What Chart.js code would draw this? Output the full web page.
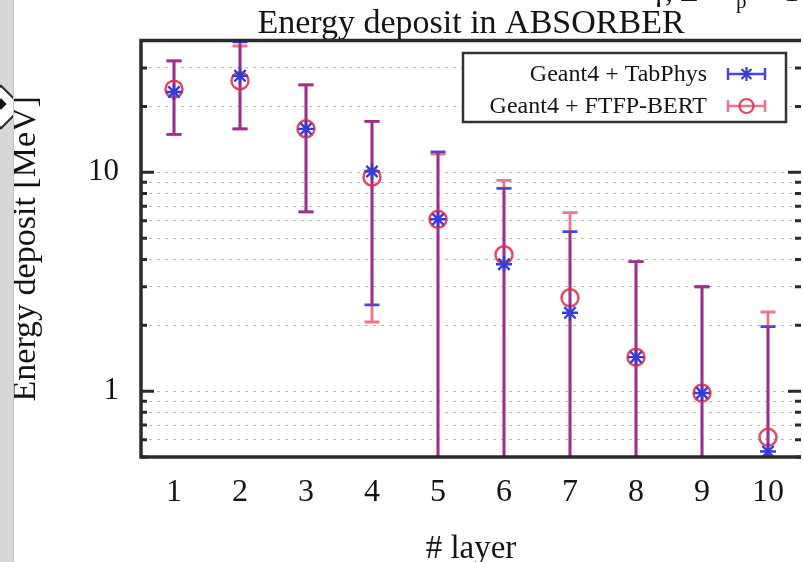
<!DOCTYPE html>
<html>
<head>
<meta charset="utf-8">
<title>Energy deposit in ABSORBER</title>
<script src="https://cdn.jsdelivr.net/npm/chart.js@4.4.1/dist/chart.umd.min.js"></script>
<style>
  html, body { margin: 0; padding: 0; background: #fff; overflow: hidden; }
  #wrap { position: relative; width: 803px; height: 562px; overflow: hidden; }
  #plot { position: absolute; left: 0; top: 0; }
  .strip { position: absolute; left: 0; top: 0; width: 13px; height: 562px; background: #d7d7d7; border-right: 1px solid #c6c6c6; overflow: hidden; }
  .knob { position: absolute; left: -15px; top: 91px; width: 28px; height: 28px; transform: rotate(45deg); background: #fff; border: 2px solid #2a2a2a; }
  .knob-dot { position: absolute; left: -3px; top: 100px; width: 8px; height: 8px; transform: rotate(45deg); background: #111; }
</style>
</head>
<body>
<div id="wrap">
  <canvas id="plot" width="812" height="562"></canvas>
  <div class="strip"><div class="knob"></div><div class="knob-dot"></div></div>
</div>
<script>
  const layers = [1, 2, 3, 4, 5, 6, 7, 8, 9, 10];

  // Geant4 + TabPhys: deposit and error bar ends (0 = runs below the axis)
  const tabPhysDeposit = [23.3, 27.6, 15.8, 10.1, 6.1, 3.8, 2.28, 1.43, 0.98, 0.53];
  const tabPhysHigh = [32.3, 39.5, 25.1, 17.1, 12.4, 8.45, 5.36, 3.91, 3.0, 1.97];
  const tabPhysLow = [14.9, 15.8, 6.6, 2.48, 0, 0, 0, 0, 0, 0];

  // Geant4 + FTFP-BERT
  const ftfpDeposit = [24.0, 26.2, 15.8, 9.5, 6.1, 4.2, 2.67, 1.43, 0.98, 0.615];
  const ftfpHigh = [32.3, 37.8, 25.1, 17.1, 12.1, 9.19, 6.55, 3.91, 3.0, 2.3];
  const ftfpLow = [14.9, 15.8, 6.6, 2.07, 0, 0, 0, 0, 0, 0];

  const yGridValues = [0.5, 0.6, 0.7, 0.8, 0.9, 1, 2, 3, 4, 5, 6, 7, 8, 9, 10, 20, 30, 40];
  const yTickLabels = [1, 10];

  const SERIF = "'Liberation Serif', 'Times New Roman', serif";
  const INK = "#141414";
  const blueLine = "#4646e4";
  const redLine = "rgba(222, 34, 70, 0.62)";
  const blueMark = "#3a3ad8";
  const redMark = "rgba(226, 40, 70, 0.85)";

  const toPoints = (vals) => layers.map((l, i) => ({ x: l, y: vals[i] }));

  // vertical error bars with caps, behind the markers
  function drawBars(ctx, x, y, low, high, color) {
    ctx.strokeStyle = color;
    ctx.lineWidth = 2.8;
    layers.forEach((layer, i) => {
      const px = x.getPixelForValue(layer);
      const top = y.getPixelForValue(high[i]);
      const bottom = low[i] > 0 ? y.getPixelForValue(low[i]) : y.bottom + 4;
      ctx.beginPath();
      ctx.moveTo(px, top);
      ctx.lineTo(px, bottom);
      ctx.moveTo(px - 7.5, top);
      ctx.lineTo(px + 7.5, top);
      if (low[i] > 0) {
        ctx.moveTo(px - 7.5, bottom);
        ctx.lineTo(px + 7.5, bottom);
      }
      ctx.stroke();
    });
  }

  const errorBars = {
    id: "errorBars",
    beforeDatasetsDraw(chart) {
      const { ctx, chartArea, scales } = chart;
      ctx.save();
      ctx.beginPath();
      ctx.rect(chartArea.left, chartArea.top, chartArea.right - chartArea.left, chartArea.bottom - chartArea.top);
      ctx.clip();
      drawBars(ctx, scales.x, scales.y, tabPhysLow, tabPhysHigh, blueLine);
      drawBars(ctx, scales.x, scales.y, ftfpLow, ftfpHigh, redLine);
      ctx.restore();
    },
  };

  // gnuplot-like frame: thick border, inward ticks on both sides, key box
  const frame = {
    id: "frame",
    afterDatasetsDraw(chart) {
      const { ctx, chartArea: a, scales } = chart;
      ctx.save();
      ctx.strokeStyle = "#2a2a2a";
      ctx.lineWidth = 3;
      yGridValues.forEach((v) => {
        const py = scales.y.getPixelForValue(v);
        const len = yTickLabels.includes(v) ? 13 : 6;
        ctx.beginPath();
        ctx.moveTo(a.left, py);
        ctx.lineTo(a.left + len, py);
        ctx.moveTo(a.right, py);
        ctx.lineTo(a.right - len, py);
        ctx.stroke();
      });
      ctx.lineWidth = 3.5;
      ctx.beginPath();
      ctx.moveTo(a.right, a.top);
      ctx.lineTo(a.left, a.top);
      ctx.lineTo(a.left, a.bottom);
      ctx.lineTo(a.right, a.bottom);
      ctx.stroke();

      const bx = 463, by = 53, bw = 323, bh = 69;
      ctx.fillStyle = "#fff";
      ctx.fillRect(bx, by, bw, bh);
      ctx.lineWidth = 2.5;
      ctx.strokeStyle = "#333";
      ctx.strokeRect(bx, by, bw, bh);
      ctx.font = "24px " + SERIF;
      ctx.textAlign = "right";
      ctx.textBaseline = "middle";
      const rows = [
        { label: "Geant4 + TabPhys", y: 74, line: blueLine, mark: blueMark, style: "star" },
        { label: "Geant4 + FTFP-BERT", y: 106, line: redLine, mark: redMark, style: "circle" },
      ];
      rows.forEach((r) => {
        ctx.fillStyle = INK;
        ctx.fillText(r.label, 707, r.y + 1);
        ctx.strokeStyle = r.line;
        ctx.lineWidth = 2.5;
        ctx.beginPath();
        ctx.moveTo(728, r.y);
        ctx.lineTo(765, r.y);
        ctx.moveTo(728, r.y - 6);
        ctx.lineTo(728, r.y + 6);
        ctx.moveTo(765, r.y - 6);
        ctx.lineTo(765, r.y + 6);
        ctx.stroke();
        ctx.strokeStyle = r.mark;
        ctx.fillStyle = "rgba(0,0,0,0)";
        ctx.lineWidth = 2.2;
        Chart.helpers.drawPoint(ctx, { pointStyle: r.style, radius: 7, rotation: 0, borderWidth: 2.2 }, 746.5, r.y);
      });

      // tail of the heading line above the title
      ctx.fillStyle = INK;
      ctx.textAlign = "left";
      ctx.textBaseline = "alphabetic";
      ctx.font = "30px " + SERIF;
      ctx.fillText("γ, E", 652, 1);
      ctx.font = "21px " + SERIF;
      ctx.fillText("p", 736, 8);
      ctx.font = "30px " + SERIF;
      ctx.fillText(" = 1", 752, 1);
      ctx.restore();
    },
  };

  new Chart(document.getElementById("plot"), {
    type: "scatter",
    data: {
      datasets: [
        {
          label: "Geant4 + TabPhys",
          data: toPoints(tabPhysDeposit),
          pointStyle: "star",
          pointRadius: 8,
          pointBorderWidth: 2.4,
          borderColor: blueMark,
          backgroundColor: blueMark,
        },
        {
          label: "Geant4 + FTFP-BERT",
          data: toPoints(ftfpDeposit),
          pointStyle: "circle",
          pointRadius: 8.5,
          pointBorderWidth: 2.5,
          borderColor: redMark,
          backgroundColor: "rgba(0,0,0,0)",
        },
      ],
    },
    options: {
      responsive: false,
      animation: false,
      devicePixelRatio: 1,
      layout: { padding: { left: 0, right: 7, top: 0, bottom: 0 } },
      plugins: {
        legend: { display: false },
        tooltip: { enabled: false },
        title: {
          display: true,
          fullSize: false,
          text: "Energy deposit in ABSORBER",
          color: INK,
          font: { family: SERIF, size: 34, weight: "normal", lineHeight: 1 },
          padding: { top: 6, bottom: 0 },
        },
      },
      scales: {
        x: {
          type: "linear",
          min: 0.5,
          max: 10.5,
          afterBuildTicks: (scale) => {
            scale.ticks = layers.map((v) => ({ value: v }));
          },
          afterFit: (scale) => {
            scale.height = 105;
          },
          grid: { display: false, drawTicks: false },
          border: { display: false },
          ticks: {
            color: INK,
            padding: 16,
            font: { family: SERIF, size: 32 },
            callback: (v) => String(v),
          },
          title: {
            display: true,
            text: "# layer",
            color: INK,
            font: { family: SERIF, size: 33, lineHeight: 1.2 },
            padding: { top: 0, bottom: -7 },
          },
        },
        y: {
          type: "logarithmic",
          min: 0.5,
          max: 40,
          afterBuildTicks: (scale) => {
            scale.ticks = yGridValues.map((v) => ({ value: v }));
          },
          afterFit: (scale) => {
            scale.width = 141;
          },
          grid: { color: "#b8b8b8", lineWidth: 1, drawTicks: false },
          border: { display: false, dash: [3, 5] },
          ticks: {
            color: INK,
            padding: 22,
            font: { family: SERIF, size: 31 },
            autoSkip: false,
            callback: (v) => (yTickLabels.includes(v) ? String(v) : ""),
          },
          title: {
            display: true,
            text: "Energy deposit [MeV]",
            color: INK,
            font: { family: SERIF, size: 34, lineHeight: 1.2 },
            padding: { top: 6, bottom: 0 },
          },
        },
      },
    },
    plugins: [errorBars, frame],
  });
</script>
</body>
</html>
